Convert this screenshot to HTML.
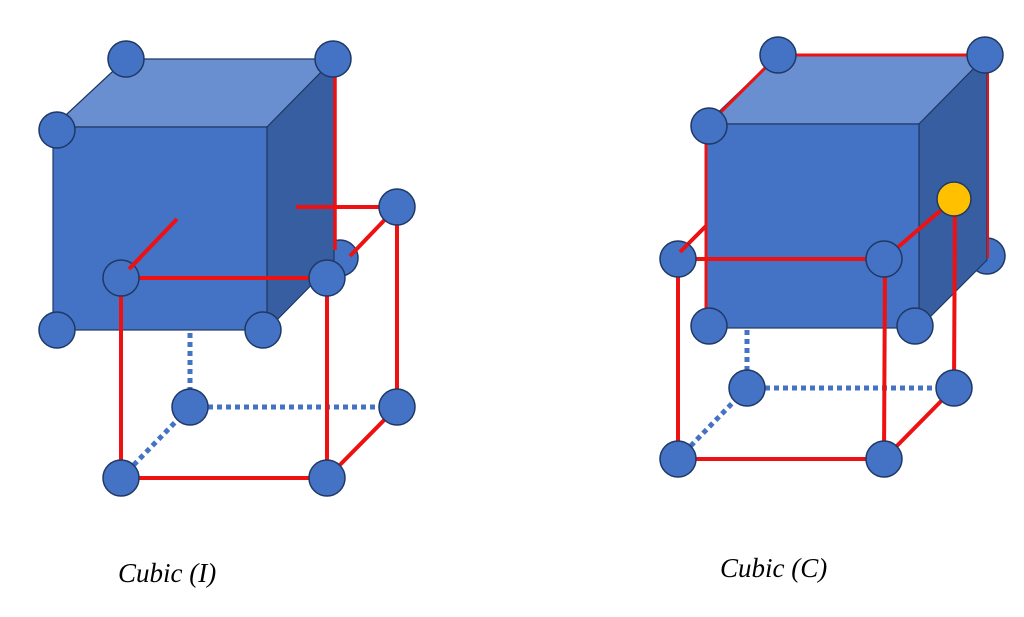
<!DOCTYPE html>
<html><head><meta charset="utf-8"><style>html,body{margin:0;padding:0;background:#fff;width:1024px;height:617px;overflow:hidden}svg{display:block}</style></head>
<body>
<svg width="1024" height="617" viewBox="0 0 1024 617" xmlns="http://www.w3.org/2000/svg">
<defs>
<style>
.a{fill:#4472C4;stroke:#1F3864;stroke-width:1.5}
.r{stroke:#EE1111;stroke-width:4;fill:none}
.d{stroke:#4472C4;stroke-width:5;stroke-dasharray:5,4;fill:none}
.f{fill:#4472C4;stroke:#1F3864;stroke-width:1.2}
.t{fill:#6A8FD0;stroke:#1F3864;stroke-width:1.2}
.s{fill:#375EA0;stroke:#1F3864;stroke-width:1.2}
</style>
</defs>
<!-- LEFT -->
<circle class="a" cx="340" cy="258" r="18"/>
<polygon class="t" points="53,127 126,59 334,59 267,127"/>
<polygon class="s" points="267,127 334,59 334,262 267,330"/>
<rect class="f" x="53" y="127" width="214" height="203"/>
<line class="r" x1="335" y1="60" x2="335" y2="250" style="stroke-width:3.5"/>
<line class="d" x1="190" y1="333" x2="190" y2="405"/>
<line class="d" x1="190" y1="407" x2="397" y2="407"/>
<line class="d" x1="121" y1="478" x2="190" y2="407"/>
<line class="r" x1="296" y1="207" x2="397" y2="207"/>
<line class="r" x1="397" y1="207" x2="397" y2="407"/>
<line class="r" x1="350" y1="256" x2="397" y2="207"/>
<line class="r" x1="121" y1="278" x2="327" y2="278"/>
<line class="r" x1="129" y1="269" x2="177" y2="219"/>
<line class="r" x1="121" y1="278" x2="121" y2="478"/>
<line class="r" x1="121" y1="478" x2="327" y2="478"/>
<line class="r" x1="327" y1="278" x2="327" y2="478"/>
<line class="r" x1="327" y1="478" x2="397" y2="407"/>
<g class="a">
<circle cx="126" cy="59" r="18"/><circle cx="333" cy="59" r="18"/>
<circle cx="57" cy="130" r="18"/><circle cx="57" cy="330" r="18"/><circle cx="263" cy="330" r="18"/>
<circle cx="397" cy="207" r="18"/><circle cx="190" cy="407" r="18"/><circle cx="397" cy="407" r="18"/>
<circle cx="121" cy="478" r="18"/><circle cx="327" cy="478" r="18"/>
</g>
<circle cx="121" cy="278" r="18" class="a"/>
<circle cx="327" cy="278" r="18" class="a"/>
<line class="r" x1="129" y1="269" x2="140" y2="258"/>
<!-- RIGHT -->
<circle class="a" cx="987" cy="256" r="18"/>
<polygon class="t" points="706,124 778,55 987,55 919,124"/>
<polygon class="s" points="919,124 987,55 987,260 919,328"/>
<rect class="f" x="706" y="124" width="213" height="204"/>
<line class="r" x1="778" y1="55" x2="985" y2="55" style="stroke-width:3"/>
<line class="r" x1="709" y1="124" x2="778" y2="55" style="stroke-width:3"/>
<line class="r" x1="706" y1="126" x2="706" y2="326" style="stroke-width:3"/>
<line class="r" x1="988" y1="56" x2="988" y2="258" style="stroke-width:2"/>
<line class="d" x1="747" y1="330" x2="747" y2="386"/>
<line class="d" x1="747" y1="388" x2="954" y2="388"/>
<line class="d" x1="678" y1="459" x2="747" y2="388"/>
<line class="r" x1="678" y1="259" x2="884" y2="259"/>
<line class="r" x1="680" y1="252" x2="706" y2="226"/>
<line class="r" x1="884" y1="259" x2="954" y2="199"/>
<line class="r" x1="955" y1="199" x2="954" y2="388"/>
<line class="r" x1="678" y1="259" x2="678" y2="459"/>
<line class="r" x1="678" y1="459" x2="884" y2="459"/>
<line class="r" x1="885" y1="259" x2="884" y2="459"/>
<line class="r" x1="884" y1="459" x2="954" y2="388"/>
<g class="a">
<circle cx="778" cy="55" r="18"/><circle cx="985" cy="55" r="18"/>
<circle cx="709" cy="126" r="18"/><circle cx="709" cy="326" r="18"/><circle cx="915" cy="326" r="18"/>
<circle cx="678" cy="259" r="18"/><circle cx="884" cy="259" r="18"/>
<circle cx="747" cy="388" r="18"/><circle cx="954" cy="388" r="18"/>
<circle cx="678" cy="459" r="18"/><circle cx="884" cy="459" r="18"/>
</g>
<line class="r" x1="680" y1="252" x2="688" y2="244"/>
<circle cx="954" cy="199" r="17" fill="#FFC000" stroke="#1F3864" stroke-width="1.5"/>
<text x="118" y="582" font-family="Liberation Serif, serif" font-style="italic" font-size="27" fill="#000">Cubic (I)</text>
<text x="720" y="577" font-family="Liberation Serif, serif" font-style="italic" font-size="27" fill="#000">Cubic (C)</text>
</svg>
</body></html>
